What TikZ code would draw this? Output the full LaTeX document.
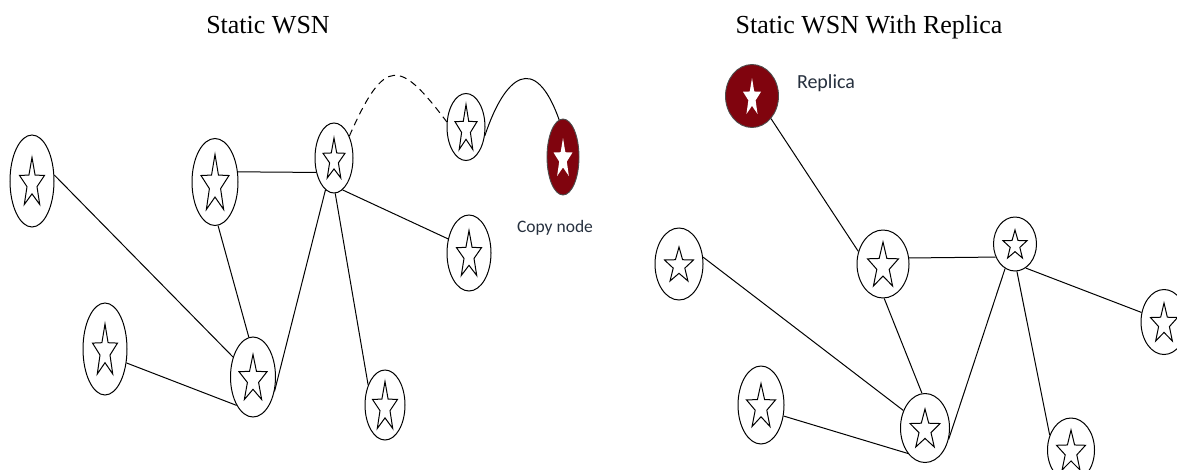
\documentclass[tikz,border=0pt]{standalone}
\usepackage{fontspec}
\setmainfont{Liberation Serif}
\newfontfamily\calibfont{Carlito}
\usetikzlibrary{shapes.geometric}
\definecolor{maroonfill}{RGB}{128,4,14}
\definecolor{labelgray}{RGB}{38,48,62}
\newcommand\wsnstar[4]{%
  \pgfmathsetmacro\wsx{#2/1.902}\pgfmathsetmacro\wsy{#3/1.809}%
  \draw[#4, shift={(#1.center)}, x=\wsx pt, y=\wsy pt, yshift=-0.0955*\wsy pt]
    (90:1) -- (126:0.4) -- (162:1) -- (198:0.4) -- (234:1) -- (270:0.4)
    -- (306:1) -- (342:0.4) -- (18:1) -- (54:0.4) -- cycle;}
\tikzset{
  wsn/.style={ellipse, draw, line width=1pt, inner sep=0pt, minimum width=#1},
  hollowstar/.style={draw, line width=1pt, line join=miter},
  whitestar/.style={fill=white, draw=none},
  redwsn/.style={ellipse, draw=black!70, fill=maroonfill, line width=0.9pt, inner sep=0pt, minimum width=#1},
  link/.style={line width=1pt},
  title/.style={font=\fontsize{26}{30}\selectfont, anchor=base},
  tag/.style={font=\calibfont\fontsize{#1}{20}\selectfont, text=labelgray}
}
\begin{document}
\begin{tikzpicture}[x=1pt, y=-1pt]
\useasboundingbox (0,0) rectangle (1177,469);
% titles
\node[title] (t1) at (268,33) {Static WSN};
\node[title] (t2) at (869,33) {Static WSN With Replica};
% ---- left panel ----
\node[wsn=44, minimum height=92] (A) at (32,181) {};
\node[wsn=46, minimum height=87] (B) at (215,182) {};
\node[wsn=38, minimum height=70] (C) at (334,158) {};
\node[wsn=38, minimum height=67] (D) at (466,127) {};
\node[redwsn=32, minimum height=76] (Cp) at (563,157) {};
\node[wsn=44, minimum height=76] (E) at (469,253) {};
\node[wsn=44, minimum height=92] (F) at (105,349) {};
\node[wsn=45, minimum height=80] (G) at (253,377) {};
\node[wsn=40, minimum height=70] (H) at (385,405) {};
\wsnstar{A}{25}{47}{hollowstar}
\wsnstar{B}{28}{55}{hollowstar}
\wsnstar{C}{22}{40}{hollowstar}
\wsnstar{D}{22}{45}{hollowstar}
\wsnstar{Cp}{19}{38}{whitestar}
\wsnstar{E}{25}{45}{hollowstar}
\wsnstar{F}{25}{50}{hollowstar}
\wsnstar{G}{28}{45}{hollowstar}
\wsnstar{H}{25}{47}{hollowstar}
\node[tag=17.5] (cpl) at (555,228) {Copy node};
\draw[link] (A.15) -- (G.135);
\draw[link] (B.24) -- (C.219);
\draw[link] (B.-86) -- (G.96);
\draw[link] (C.-105) -- (G.-34);
\draw[link] (C.-88) -- (H.130);
\draw[link] (C.-75) -- (E.146);
\draw[link] (F.-33) -- (G.-120);
\draw[link, dashed, dash pattern=on 7pt off 5pt] (C.55) .. controls (385,55) and (400,60) .. (D.165);
\draw[link] (D.-25) .. controls (505,75) and (535,52) .. (Cp.96);
% ---- right panel ----
\node[redwsn=53, minimum height=63] (Rp) at (752,96) {};
\node[wsn=48, minimum height=72] (R1) at (679,264) {};
\node[wsn=52, minimum height=68] (R2) at (883,264) {};
\node[wsn=43, minimum height=54] (R3) at (1015,244) {};
\node[wsn=46, minimum height=65] (R4) at (1164,322) {};
\node[wsn=46, minimum height=78] (R5) at (761,405) {};
\node[wsn=49, minimum height=69] (R6) at (925,428) {};
\node[wsn=47, minimum height=64] (R7) at (1071,450) {};
\wsnstar{Rp}{18}{36}{whitestar}
\wsnstar{R1}{29}{34}{hollowstar}
\wsnstar{R2}{31}{44}{hollowstar}
\wsnstar{R3}{24}{28}{hollowstar}
\wsnstar{R4}{27}{38}{hollowstar}
\wsnstar{R5}{29}{43}{hollowstar}
\wsnstar{R6}{30}{38}{hollowstar}
\wsnstar{R7}{29}{40}{hollowstar}
\node[tag=20] (rpl) at (826,83) {Replica};
\draw[link] (Rp.-50) -- (R2.153);
\draw[link] (R2.13) -- (R3.214);
\draw[link] (R1.16) -- (R6.141);
\draw[link] (R2.-88) -- (R6.95);
\draw[link] (R3.-112) -- (R6.-26);
\draw[link] (R3.-86) -- (R7.145);
\draw[link] (R3.-66) -- (R4.157);
\draw[link] (R5.-26) -- (R6.-124);
\end{tikzpicture}
\end{document}
